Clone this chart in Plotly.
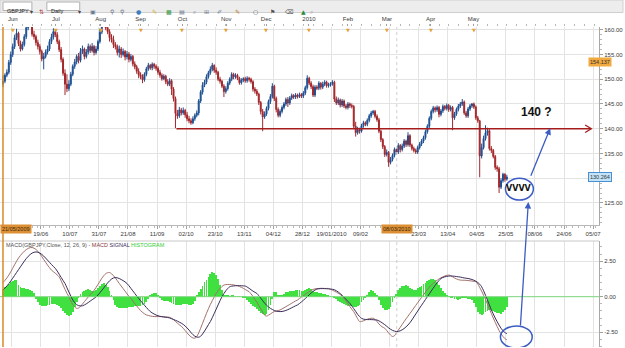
import plotly.graph_objects as go

# ---------------- data ----------------
close = [
149.6,150.8,151.4,153.4,155.0,156.6,158.4,159.3,157.2,156.1,
157.0,158.6,160.4,161.0,161.6,159.1,158.6,157.4,156.6,155.6,
154.1,154.6,155.5,156.1,157.6,158.5,159.6,159.0,157.6,156.0,
154.0,151.2,149.0,148.1,149.0,151.0,152.6,153.5,154.6,153.8,
155.6,156.1,154.6,155.5,156.6,155.8,156.6,155.4,156.1,157.6,
159.5,161.0,161.6,160.4,159.6,158.4,158.0,157.0,156.6,155.4,
156.1,155.0,155.6,154.5,155.1,154.0,154.6,153.1,152.5,151.6,
150.9,150.5,149.9,151.0,152.1,152.8,152.3,153.0,152.6,152.2,
151.4,150.8,150.1,150.6,149.5,149.0,149.7,148.0,146.1,143.1,
142.6,143.8,143.2,143.7,142.8,142.0,141.6,141.2,142.0,142.7,
143.2,145.6,147.4,148.8,149.4,150.5,151.3,152.0,152.8,151.8,
151.4,150.0,149.6,148.6,147.5,148.1,149.2,150.0,151.0,150.5,
150.8,150.2,149.3,149.8,150.1,149.7,150.2,150.0,149.5,148.0,
147.6,147.0,145.3,143.5,142.4,143.0,144.1,145.5,146.5,148.6,
146.1,143.9,142.7,143.5,144.3,145.0,145.9,145.2,146.2,146.7,
146.4,146.8,146.5,146.9,146.6,147.2,148.3,150.2,149.2,148.5,
146.8,148.4,148.2,149.2,148.4,149.0,149.4,148.7,148.9,149.1,
149.4,146.0,145.2,145.8,144.8,145.6,144.6,144.3,145.0,144.7,
144.5,140.5,139.2,139.8,139.5,140.6,141.2,140.9,141.7,142.6,
143.2,143.5,142.5,141.8,139.5,137.8,136.4,134.8,135.2,133.2,
133.8,134.6,135.8,135.3,136.6,135.8,136.5,137.5,136.8,138.6,
136.7,136.0,135.6,135.3,136.2,136.9,137.5,138.2,139.4,140.5,
142.1,143.5,144.2,143.8,144.3,142.9,143.6,144.5,144.1,144.7,
143.9,144.3,142.2,143.0,143.9,144.6,145.0,145.4,143.2,142.6,
144.0,144.6,145.0,144.4,142.2,141.6,134.5,136.2,138.0,139.2,
139.6,136.0,135.6,134.4,132.2,131.9,128.2,129.5,130.8,129.8,
130.26]

open_ = [
149.0,149.6,150.8,151.4,153.4,155.0,156.6,158.4,159.3,157.2,
156.1,157.0,158.6,160.4,161.0,161.6,159.1,158.6,157.4,156.6,
155.6,154.1,154.6,155.5,156.1,157.6,158.5,159.6,159.0,157.6,
156.0,154.0,151.2,149.0,148.1,149.0,151.0,152.6,153.5,154.6,
153.8,155.6,156.1,154.6,155.5,156.6,155.8,156.6,155.4,156.1,
157.6,159.5,161.0,161.6,160.4,159.6,158.4,158.0,157.0,156.6,
155.4,156.1,155.0,155.6,154.5,155.1,154.0,154.6,153.1,152.5,
151.6,150.9,150.5,149.9,151.0,152.1,152.8,152.3,153.0,152.6,
152.2,151.4,150.8,150.1,150.6,149.5,149.0,149.7,148.0,146.1,
143.1,142.6,143.8,143.2,143.7,142.8,142.0,141.6,141.2,142.0,
142.7,143.2,145.6,147.4,148.8,149.4,150.5,151.3,152.0,152.8,
151.8,151.4,150.0,149.6,148.6,147.5,148.1,149.2,150.0,151.0,
150.5,150.8,150.2,149.3,149.8,150.1,149.7,150.2,150.0,149.5,
148.0,147.6,147.0,145.3,143.5,142.4,143.0,144.1,145.5,146.5,
148.6,146.1,143.9,142.7,143.5,144.3,145.0,145.9,145.2,146.2,
146.7,146.4,146.8,146.5,146.9,146.6,147.2,148.3,150.2,149.2,
148.5,146.8,148.4,148.2,149.2,148.4,149.0,149.4,148.7,148.9,
149.1,149.4,146.0,145.2,145.8,144.8,145.6,144.6,144.3,145.0,
144.7,144.5,140.5,139.2,139.8,139.5,140.6,141.2,140.9,141.7,
142.6,143.2,143.5,142.5,141.8,139.5,137.8,136.4,134.8,135.2,
133.2,133.8,134.6,135.8,135.3,136.6,135.8,136.5,137.5,136.8,
138.6,136.7,136.0,135.6,135.3,136.2,136.9,137.5,138.2,139.4,
140.5,142.1,143.5,144.2,143.8,144.3,142.9,143.6,144.5,144.1,
144.7,143.9,144.3,142.2,143.0,143.9,144.6,145.0,145.4,143.2,
142.6,144.0,144.6,145.0,144.4,142.2,141.6,134.5,136.2,138.0,
139.2,139.6,136.0,135.6,134.4,132.2,131.9,128.2,129.5,130.8,
129.8]

high = [
150.8,151.2,152.0,153.9,155.6,157.2,159.0,160.2,159.6,157.8,
157.6,159.1,161.0,161.8,162.4,162.0,159.8,159.0,158.0,157.1,
156.0,155.3,156.0,156.8,158.1,159.2,160.3,160.1,159.5,158.0,
156.5,154.4,152.0,151.0,149.8,151.5,153.0,154.1,155.0,155.3,
156.3,156.8,156.4,156.1,157.2,157.0,157.3,156.9,156.7,158.0,
160.2,161.6,162.5,162.0,160.9,160.1,159.1,158.8,157.5,157.0,
156.8,156.5,156.2,155.9,155.7,155.5,155.1,154.9,153.6,152.9,
152.2,151.4,151.0,151.4,152.5,153.3,153.1,153.4,153.3,153.0,
152.6,151.9,151.2,151.0,150.9,150.0,150.2,150.0,148.4,146.5,
143.8,144.4,144.2,144.3,144.0,143.4,142.6,142.1,142.5,143.1,
143.7,146.0,147.8,149.4,149.9,151.0,151.7,152.6,153.3,153.0,
152.4,151.7,150.5,149.9,149.0,148.6,149.6,150.4,151.4,151.3,
151.2,151.1,150.5,150.2,150.4,150.5,150.6,150.5,150.3,149.8,
148.4,148.0,147.3,145.6,144.0,143.5,144.5,145.9,147.0,149.2,
148.9,146.5,144.3,143.9,144.7,145.4,146.3,146.4,146.6,147.1,
147.0,147.2,147.1,147.3,147.2,147.6,148.7,150.8,150.5,149.6,
148.9,148.8,148.8,149.6,149.4,149.5,149.8,149.7,149.3,149.4,
149.8,149.7,146.5,146.3,146.1,146.0,145.9,145.0,145.4,145.3,
145.1,144.8,141.4,140.4,140.2,141.0,141.6,141.5,142.1,143.0,
143.6,143.8,143.8,142.9,142.2,139.8,138.1,136.7,135.8,135.5,
134.3,135.0,136.2,136.1,137.1,136.9,137.0,137.9,137.8,139.3,
138.9,137.0,136.4,136.0,136.6,137.3,137.9,138.6,139.8,140.9,
142.5,143.9,144.6,144.5,144.7,144.6,144.0,144.9,144.8,145.1,
145.0,144.7,144.6,143.4,144.3,145.0,145.4,146.0,145.7,143.6,
144.4,145.0,145.2,145.3,144.7,142.6,141.8,137.0,138.6,140.7,
140.2,139.9,136.5,135.9,134.7,132.6,132.3,130.0,131.1,131.0,
130.7]

low = [
148.4,149.2,150.4,151.0,152.9,154.5,156.1,157.9,156.7,155.6,
155.8,156.6,158.1,159.9,160.6,158.6,158.0,156.8,156.0,155.0,
153.6,152.0,154.2,155.0,155.7,157.1,158.0,158.5,157.1,155.5,
153.4,150.7,146.8,147.4,147.6,148.6,150.6,152.1,153.0,153.2,
153.4,155.1,154.0,154.2,155.0,155.3,155.4,154.8,155.0,155.7,
157.2,159.1,160.6,159.9,159.1,157.6,157.4,156.3,156.0,154.8,
154.4,154.3,154.6,153.8,154.0,153.4,153.6,152.6,152.0,151.1,
150.2,150.0,149.2,149.5,150.6,151.7,151.9,151.8,152.1,151.7,
150.9,150.3,149.7,149.8,149.0,148.6,148.6,146.8,145.5,140.1,
142.0,142.2,142.7,142.8,142.2,141.5,141.1,140.8,140.9,141.6,
142.3,142.7,145.2,146.9,148.4,149.0,150.1,150.9,151.6,151.3,
150.9,149.6,149.1,148.2,146.4,147.1,147.7,148.8,149.6,150.0,
150.1,149.8,148.9,148.9,149.4,149.3,149.3,149.5,149.1,147.5,
147.1,146.6,144.8,142.9,139.5,142.0,142.6,143.7,145.0,146.1,
145.6,143.3,142.3,142.3,143.1,143.9,144.6,144.4,144.8,145.8,
146.0,146.0,146.1,146.2,146.2,146.2,146.8,147.9,148.8,148.0,
146.4,146.4,147.8,147.8,147.9,148.0,148.6,148.3,148.3,148.5,
148.7,145.4,144.8,144.8,144.3,144.4,144.2,143.9,143.9,144.2,
144.1,140.0,138.4,138.8,139.0,139.2,140.2,140.5,140.5,141.3,
142.2,142.8,142.1,141.4,139.1,137.3,135.9,134.3,134.4,132.3,
132.8,133.4,134.2,134.8,134.9,135.2,135.4,136.1,136.3,136.4,
136.3,135.6,135.2,134.9,134.9,135.8,136.5,137.1,137.8,139.0,
140.1,141.7,143.1,143.3,143.4,142.3,142.5,143.2,143.7,143.7,
143.4,143.5,139.7,141.8,142.6,143.5,144.2,144.6,142.8,142.2,
142.2,143.6,144.2,144.0,141.8,141.2,130.2,134.0,135.8,137.6,
138.6,135.6,135.1,134.0,131.7,131.3,127.0,127.8,129.1,129.3,
129.5]

macd = [
1.00,1.15,1.32,1.52,1.75,2.00,2.25,2.50,2.72,2.90,
3.06,3.20,3.31,3.40,3.45,3.46,3.42,3.33,3.20,3.03,
2.83,2.62,2.42,2.22,2.04,1.87,1.76,1.65,1.53,1.40,
1.12,0.82,0.52,0.24,0.00,-0.30,-0.55,-0.72,-0.82,-0.80,
-0.68,-0.52,-0.35,-0.18,-0.02,0.13,0.28,0.45,0.65,0.86,
1.08,1.30,1.48,1.62,1.69,1.70,1.62,1.48,1.32,1.13,
0.93,0.75,0.57,0.39,0.20,0.03,-0.12,-0.30,-0.48,-0.65,
-0.82,-0.98,-1.10,-1.20,-1.28,-1.32,-1.36,-1.38,-1.40,-1.40,
-1.40,-1.40,-1.40,-1.41,-1.42,-1.44,-1.45,-1.52,-1.62,-1.74,
-1.86,-1.98,-2.08,-2.22,-2.38,-2.55,-2.70,-2.82,-2.90,-2.92,
-2.80,-2.55,-2.22,-1.87,-1.52,-1.17,-0.85,-0.55,-0.28,-0.02,
0.23,0.42,0.58,0.72,0.82,0.85,0.86,0.86,0.85,0.83,
0.80,0.77,0.72,0.66,0.59,0.51,0.43,0.35,0.20,0.02,
-0.18,-0.40,-0.62,-0.85,-1.08,-1.30,-1.36,-1.30,-1.22,-1.12,
-1.05,-1.00,-0.98,-0.93,-0.86,-0.78,-0.70,-0.62,-0.54,-0.46,
-0.38,-0.30,-0.23,-0.13,-0.03,0.07,0.17,0.27,0.36,0.44,
0.51,0.55,0.57,0.58,0.59,0.59,0.58,0.58,0.58,0.52,
0.46,0.39,0.32,0.24,0.16,0.05,-0.12,-0.30,-0.50,-0.70,
-0.88,-1.05,-1.30,-1.55,-1.75,-1.74,-1.70,-1.64,-1.58,-1.54,
-1.52,-1.52,-1.60,-1.75,-1.92,-2.05,-2.15,-2.22,-2.38,-2.55,
-2.70,-2.80,-2.75,-2.55,-2.35,-2.15,-1.95,-1.75,-1.56,-1.37,
-1.18,-1.00,-0.80,-0.61,-0.42,-0.23,-0.05,0.13,0.32,0.50,
0.67,0.82,0.93,1.05,1.15,1.25,1.33,1.40,1.46,1.50,
1.52,1.48,1.40,1.32,1.25,1.20,1.17,1.16,1.16,1.15,
1.14,1.12,1.10,1.08,1.05,0.90,0.65,0.40,0.10,-0.20,
-0.52,-0.85,-1.18,-1.50,-1.80,-2.10,-2.38,-2.62,-2.80,-2.95,
-3.04]

signal = [
0.47,0.60,0.75,0.92,1.10,1.30,1.50,1.70,1.90,2.10,
2.30,2.50,2.68,2.84,2.97,3.07,3.13,3.15,3.13,3.07,
2.98,2.86,2.72,2.57,2.42,2.27,2.13,1.99,1.80,1.58,
1.36,1.14,0.93,0.63,0.33,0.05,-0.23,-0.42,-0.56,-0.63,
-0.65,-0.64,-0.58,-0.50,-0.41,-0.31,-0.21,-0.12,-0.02,0.12,
0.28,0.45,0.62,0.80,0.97,1.12,1.24,1.32,1.35,1.33,
1.28,1.21,1.13,1.04,0.93,0.77,0.59,0.41,0.23,0.05,
-0.12,-0.28,-0.44,-0.60,-0.76,-0.91,-1.05,-1.14,-1.22,-1.29,
-1.34,-1.38,-1.41,-1.43,-1.45,-1.46,-1.50,-1.55,-1.60,-1.66,
-1.72,-1.79,-1.86,-1.95,-2.06,-2.20,-2.35,-2.52,-2.67,-2.78,
-2.84,-2.85,-2.78,-2.62,-2.42,-2.20,-1.97,-1.75,-1.48,-1.18,
-0.88,-0.58,-0.28,0.00,0.22,0.42,0.58,0.70,0.74,0.76,
0.77,0.78,0.78,0.77,0.76,0.75,0.68,0.59,0.49,0.39,
0.31,0.23,0.07,-0.10,-0.28,-0.45,-0.60,-0.72,-0.82,-0.90,
-0.97,-1.02,-1.04,-1.05,-1.04,-1.01,-0.97,-0.91,-0.85,-0.78,
-0.71,-0.64,-0.58,-0.48,-0.37,-0.25,-0.13,0.00,0.13,0.26,
0.37,0.47,0.54,0.56,0.57,0.57,0.57,0.56,0.55,0.54,
0.52,0.49,0.42,0.33,0.22,0.10,-0.04,-0.18,-0.33,-0.47,
-0.65,-0.84,-1.04,-1.24,-1.40,-1.52,-1.58,-1.60,-1.61,-1.61,
-1.61,-1.62,-1.63,-1.64,-1.70,-1.78,-1.87,-1.97,-2.08,-2.19,
-2.29,-2.37,-2.42,-2.45,-2.44,-2.40,-2.33,-2.24,-2.12,-1.99,
-1.83,-1.64,-1.43,-1.22,-1.01,-0.80,-0.60,-0.40,-0.20,0.00,
0.20,0.40,0.60,0.80,0.98,1.14,1.28,1.35,1.40,1.43,
1.45,1.46,1.45,1.44,1.42,1.40,1.38,1.35,1.32,1.30,
1.28,1.25,1.21,1.16,1.09,1.00,0.88,0.70,0.42,0.10,
-0.24,-0.58,-0.93,-1.22,-1.50,-1.76,-2.00,-2.22,-2.40,-2.52,
-2.60]

hist = [
0.55,0.65,0.78,0.90,1.02,1.12,1.20,1.15,0.85,0.70,
0.62,0.58,0.55,0.52,0.47,0.42,0.25,-0.15,-0.40,-0.55,
-0.62,-0.65,-0.62,-0.58,-0.55,-0.52,-0.50,-0.52,-0.58,-0.68,
-0.82,-0.98,-1.15,-1.28,-1.38,-1.30,-1.05,-0.70,-0.35,-0.05,
0.20,0.35,0.42,0.48,0.55,0.50,0.42,0.40,0.46,0.58,
0.72,0.88,0.93,0.85,0.65,0.40,0.12,-0.25,-0.55,-0.72,
-0.78,-0.80,-0.82,-0.80,-0.76,-0.72,-0.70,-0.70,-0.68,-0.66,
-0.65,-0.62,-0.58,-0.50,-0.35,-0.15,0.05,0.20,0.28,0.25,
0.10,-0.12,-0.22,-0.28,-0.30,-0.32,-0.38,-0.45,-0.50,-0.55,
-0.58,-0.58,-0.55,-0.50,-0.48,-0.50,-0.55,-0.58,-0.50,-0.30,
0.05,0.30,0.55,0.78,1.00,1.20,1.40,1.58,1.72,1.70,
1.55,1.25,0.85,0.45,0.15,0.08,0.05,0.04,0.05,0.06,
0.04,0.03,0.02,0.00,-0.05,-0.10,-0.20,-0.35,-0.50,-0.62,
-0.75,-0.88,-1.00,-1.12,-1.25,-1.30,-1.22,-0.95,-0.55,-0.15,
0.30,0.35,0.12,0.05,0.12,0.22,0.30,0.35,0.38,0.40,
0.42,0.45,0.45,0.44,0.40,0.38,0.45,0.55,0.60,0.52,
0.42,0.35,0.30,0.28,0.26,0.22,0.18,0.12,0.08,0.04,
0.00,-0.08,-0.18,-0.28,-0.38,-0.45,-0.52,-0.58,-0.62,-0.66,
-0.68,-0.70,-0.72,-0.68,-0.55,-0.40,-0.22,-0.05,0.10,0.30,
0.45,0.42,0.25,0.05,-0.25,-0.55,-0.80,-0.92,-0.95,-0.88,
-0.70,-0.40,-0.10,0.20,0.45,0.62,0.72,0.78,0.80,0.75,
0.62,0.52,0.48,0.50,0.58,0.68,0.78,0.88,0.98,1.08,
1.18,1.25,1.28,1.20,1.02,0.82,0.62,0.42,0.25,0.10,
0.02,-0.05,-0.10,-0.15,-0.18,-0.20,-0.18,-0.12,-0.10,-0.12,
-0.15,-0.18,-0.25,-0.45,-0.75,-1.05,-1.22,-1.30,-1.25,-1.10,
-0.98,-0.92,-0.95,-1.00,-1.05,-1.12,-1.18,-1.20,-1.10,-0.95,
-0.75]

date_labels = ["21/05/2009", "19/06", "10/07", "31/07", "21/08", "11/09", "02/10",
               "23/10", "13/11", "04/12", "28/12", "19/01/2010", "09/02", "08/03/2010",
               "23/03", "13/04", "04/05", "25/05", "08/06", "24/06", "05/07"]
month_labels = ["Jun", "Jul", "Aug", "Sep", "Oct", "Nov", "Dec", "2010", "Feb", "Mar", "Apr", "May"]
month_pos = [5.1, 27.3, 50.4, 71.0, 92.6, 115.2, 135.8, 157.9, 178.0, 198.1, 220.7, 242.8]
price_ticks = [125, 130, 135, 140, 145, 150, 155, 160]
macd_ticks = [-2.5, 0, 2.5]
last_price_label = "130.264"
cursor_price_label = "154.137"

n = len(close)
for arr in (open_, high, low, macd, signal, hist):
    assert len(arr) == n, (len(arr), n)
idx = list(range(n))

# ---------------- geometry helpers ----------------
W, H = 625, 348
def fy(p):  # pixel row -> paper fraction
    return 1 - p / H
def fx(p):
    return p / W

XR = [-1.543, 307.6]
date_pos = [4.5 + 15 * k for k in range(len(date_labels))]
date_text = ["" if k in (0, 13) else t for k, t in enumerate(date_labels)]
# the 130.00 label is hidden under the last-price box in the reference
price_text = ["" if v == 130 else "%.2f" % v for v in price_ticks]
FONT = "Liberation Sans, Arial, sans-serif"
GRID = "#e3e3e3"

fig = go.Figure()
fig.add_trace(go.Candlestick(
    x=idx, open=open_, high=high, low=low, close=close, xaxis="x", yaxis="y",
    increasing=dict(line=dict(color="#1d4f91", width=1), fillcolor="#1d4f91"),
    decreasing=dict(line=dict(color="#a3262a", width=1), fillcolor="#a3262a"),
    whiskerwidth=0, hoverinfo="skip", showlegend=False))
fig.add_trace(go.Bar(x=idx, y=hist, xaxis="x2", yaxis="y2", width=0.42,
                     marker=dict(color="#3fe03f", line=dict(width=0)), showlegend=False))
fig.add_trace(go.Scatter(x=idx, y=macd, mode="lines", xaxis="x2", yaxis="y2",
                         line=dict(color="#a3716b", width=1, shape="spline"), showlegend=False))
fig.add_trace(go.Scatter(x=idx, y=signal, mode="lines", xaxis="x2", yaxis="y2",
                         line=dict(color="#3a2d5c", width=1, shape="spline"), showlegend=False))
fig.add_trace(go.Scatter(x=month_pos, y=[None] * len(month_pos), mode="markers",
                         xaxis="x3", yaxis="y", showlegend=False, hoverinfo="skip"))

tickfont = dict(family=FONT, size=6, color="#3a3a3a")

fig.update_layout(
    width=W, height=H, margin=dict(l=0, r=0, t=0, b=0),
    paper_bgcolor="white", plot_bgcolor="white", showlegend=False, hovermode=False,
    font=dict(family=FONT),
    bargap=0,
    xaxis=dict(domain=[0, fx(601)], range=XR, anchor="y", tickmode="array",
               tickvals=date_pos, ticktext=date_text, ticks="outside", ticklen=3,
               tickcolor="#a0a0a0", tickfont=tickfont, showgrid=True, gridcolor=GRID,
               showline=True, linecolor="#b8b8b8", zeroline=False,
               rangeslider=dict(visible=False),
               minor=dict(tickmode="linear", tick0=0, dtick=3, ticks="outside",
                          ticklen=2, tickcolor="#b8b8b8", showgrid=False)),
    xaxis2=dict(domain=[0, fx(601)], range=XR, anchor="y2", matches="x",
                tickmode="array", tickvals=date_pos, showticklabels=False, ticks="",
                showgrid=True, gridcolor=GRID, showline=False, zeroline=False),
    xaxis3=dict(overlaying="x", matches="x", side="top", anchor="free", position=fy(25.5),
                tickmode="array", tickvals=month_pos, ticktext=month_labels,
                ticks="outside", ticklen=2, tickcolor="#a0a0a0", tickfont=tickfont,
                showgrid=False, showline=False, zeroline=False,
                minor=dict(tickmode="linear", tick0=0, dtick=5, ticks="outside",
                           ticklen=2, tickcolor="#b8b8b8")),
    yaxis=dict(domain=[fy(225), fy(27)], range=[120.55, 160.55], side="right", anchor="x",
               tickmode="array", tickvals=price_ticks, ticktext=price_text,
               ticks="outside", ticklen=3,
               tickcolor="#a0a0a0", tickfont=tickfont, showgrid=True, gridcolor=GRID,
               showline=True, linecolor="#a8a8a8", zeroline=False,
               minor=dict(tickmode="linear", tick0=0, dtick=1, ticks="outside",
                          ticklen=2, tickcolor="#b8b8b8", showgrid=False)),
    yaxis2=dict(domain=[fy(347), fy(241)], range=[-3.54, 3.92], side="right", anchor="x2",
                tickmode="array", tickvals=macd_ticks,
                ticktext=["%.2f" % v for v in macd_ticks], ticks="outside", ticklen=3,
                tickcolor="#a0a0a0", tickfont=tickfont, showgrid=True, gridcolor=GRID,
                showline=True, linecolor="#a8a8a8", zeroline=False,
                minor=dict(tickmode="linear", tick0=0, dtick=0.5, ticks="outside",
                           ticklen=2, tickcolor="#b8b8b8", showgrid=False)),
)

shapes = []
# toolbar
shapes.append(dict(type="rect", xref="paper", yref="paper", x0=0, x1=1, y0=fy(12.5), y1=1,
                   fillcolor="#ededed", line=dict(color="#cfcfcf", width=1), layer="below"))
for x0, x1 in ((3, 32), (47, 80)):
    shapes.append(dict(type="rect", xref="paper", yref="paper", x0=fx(x0), x1=fx(x1),
                       y0=fy(10.5), y1=fy(2), fillcolor="white",
                       line=dict(color="#b0b0b0", width=1)))
# macd panel top border
shapes.append(dict(type="line", xref="paper", yref="paper", x0=0, x1=fx(601),
                   y0=fy(241), y1=fy(241), line=dict(color="#c8c8c8", width=1)))
# green zero line
shapes.append(dict(type="line", xref="paper", yref="y2", x0=0, x1=fx(601), y0=0, y1=0,
                   line=dict(color="#7fd97f", width=1)))
# orange cursor line
shapes.append(dict(type="line", xref="x", yref="paper", x0=0, x1=0, y0=fy(347), y1=fy(27),
                   line=dict(color="#d98b28", width=1.5)))
# dotted date marker
shapes.append(dict(type="line", xref="x", yref="paper", x0=203.2, x1=203.2,
                   y0=fy(347), y1=fy(27), line=dict(color="#cfcfcf", width=1, dash="dot")))
# red support line at 140 with open arrow head
shapes.append(dict(type="line", xref="x", yref="y", x0=89.5, x1=303.5, y0=140, y1=140,
                   line=dict(color="#a51c1c", width=1.5)))
shapes.append(dict(type="path", xref="x", yref="y",
                   path="M 300.4,140.75 L 303.6,140 L 300.4,139.25",
                   line=dict(color="#a51c1c", width=1.3)))
# blue circles
shapes.append(dict(type="circle", xref="x", yref="y", x0=259.3, x1=273.7, y0=125.6, y1=130.0,
                   line=dict(color="#3b5cc2", width=1.5)))
shapes.append(dict(type="circle", xref="x2", yref="y2", x0=256.7, x1=273.1, y0=-3.61, y1=-2.06,
                   line=dict(color="#3b5cc2", width=1.5)))

ann = []
# blue arrows
ann.append(dict(x=282.4, y=140.1, xref="x", yref="y", ax=-20, ay=49, text="",
                showarrow=True, arrowhead=2, arrowsize=1, arrowwidth=1.3,
                arrowcolor="#3b5cc2"))
ann.append(dict(x=271.1, y=125.2, xref="x", yref="y", ax=-8, ay=125, text="",
                showarrow=True, arrowhead=2, arrowsize=1, arrowwidth=1.3,
                arrowcolor="#3b5cc2"))
ann.append(dict(x=275.2, y=143.4, xref="x", yref="y", text="<b>140 ?</b>", showarrow=False,
                font=dict(family=FONT, size=12, color="#111")))
ann.append(dict(x=266.4, y=128.0, xref="x", yref="y", text="<b>VVVV</b>", showarrow=False,
                font=dict(family="DejaVu Sans", size=8, color="#111")))
# macd legend
ann.append(dict(x=fx(4), y=fy(244.5), xref="paper", yref="paper", xanchor="left",
                yanchor="middle", showarrow=False,
                text=("<span style='color:#555'>MACD(GBPJPY,Close, 12, 26, 9) - </span>"
                      "<span style='color:#8a3b3b'>MACD </span>"
                      "<span style='color:#3a2d5c'>SIGNAL </span>"
                      "<span style='color:#33cc33'>HISTOGRAM</span>"),
                font=dict(family=FONT, size=5.5)))
# month markers
for mp in month_pos:
    ann.append(dict(x=mp, y=fy(25), xref="x", yref="paper", text="▼", showarrow=False,
                    font=dict(family="DejaVu Sans", size=5, color="#e3a13a")))
# highlighted labels
ann.append(dict(x=0, y=fy(234), xref="paper", yref="paper", xanchor="left",
                text=date_labels[0], showarrow=False, bgcolor="#dd8f34", borderpad=1,
                font=dict(family=FONT, size=5.5, color="#3a2a10")))
ann.append(dict(x=203.2, y=fy(234), xref="x", yref="paper", text=date_labels[13],
                showarrow=False, bgcolor="#dd8f34", borderpad=1,
                font=dict(family=FONT, size=5.5, color="#3a2a10")))
ann.append(dict(x=fx(614), y=fy(57), xref="paper", yref="paper", text=cursor_price_label,
                showarrow=False, bgcolor="#f2a93f", borderpad=1,
                font=dict(family=FONT, size=5.5, color="#333")))
ann.append(dict(x=fx(614), y=fy(176.5), xref="paper", yref="paper", text=last_price_label,
                showarrow=False, bgcolor="#c3e3f8", bordercolor="#4a90d0", borderpad=1,
                font=dict(family=FONT, size=5.5, color="#333")))
# toolbar texts / icons
ann.append(dict(x=fx(5), y=fy(6.3), xref="paper", yref="paper", xanchor="left",
                text="GBPJPY", showarrow=False, font=dict(family=FONT, size=5.5, color="#222")))
ann.append(dict(x=fx(49), y=fy(6.3), xref="paper", yref="paper", xanchor="left",
                text="Daily", showarrow=False, font=dict(family=FONT, size=5.5, color="#222")))
for xp in (28, 76):
    ann.append(dict(x=fx(xp), y=fy(6.3), xref="paper", yref="paper", text="▾",
                    showarrow=False, font=dict(family="DejaVu Sans", size=6, color="#444")))
icons = [(37, "⇅", "#b03a3a"), (88, "▣", "#6a7a90"), (108, "⚲", "#5a6a80"),
         (118, "⚲", "#5a6a80"), (134, "●", "#3f7fc0"), (150, "✎", "#d4b030"),
         (165, "▩", "#3a9a4a"), (178, "▤", "#6a7a90"), (192, "⌕", "#6a7a90"),
         (203, "⊞", "#6a7a90"), (220, "✐", "#6a7a90"), (238, "✎", "#c07a30"),
         (256, "○", "#505050"), (273, "⚑", "#505050"), (290, "⌫", "#505050"),
         (304, "▲", "#2a8a3a"), (313, "⌕", "#909090")]
for xp, g, col in icons:
    ann.append(dict(x=fx(xp), y=fy(6.3), xref="paper", yref="paper", text=g,
                    showarrow=False, font=dict(family="DejaVu Sans", size=6, color=col)))

fig.update_layout(shapes=shapes, annotations=ann)
fig.write_html("out.html")
